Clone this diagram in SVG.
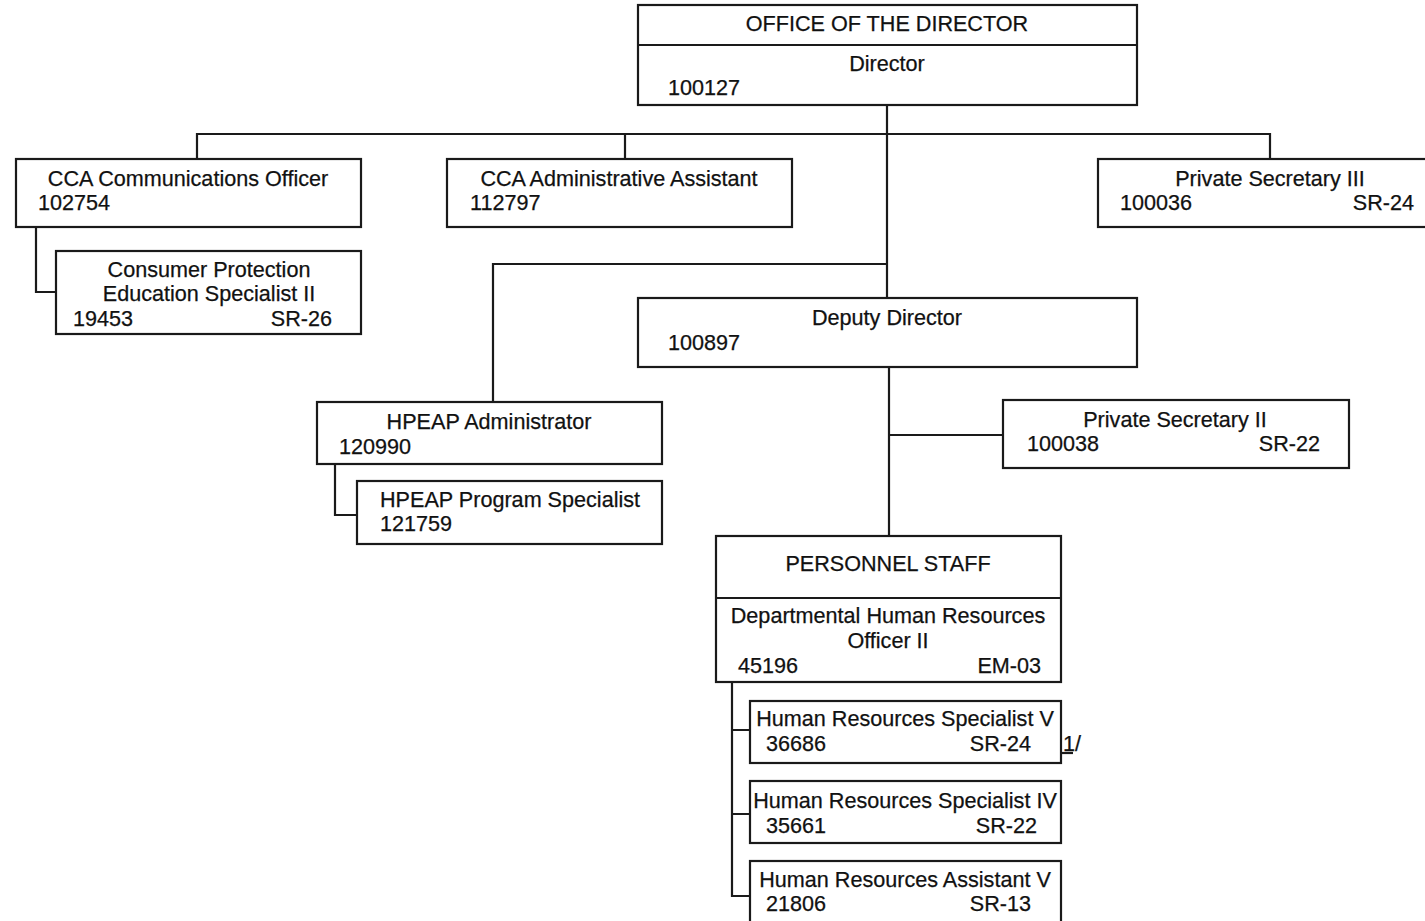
<svg xmlns="http://www.w3.org/2000/svg" width="1425" height="921" viewBox="0 0 1425 921">
<style>
.box{fill:#fff;stroke:#1a1a1a;stroke-width:2.2}
.ln{fill:none;stroke:#1a1a1a;stroke-width:2.2}
text{font-family:"Liberation Sans",Arial,sans-serif;font-size:21.6px;fill:#111;stroke:#111;stroke-width:0.25}
.c{text-anchor:middle}
.r{text-anchor:end}
</style>
<rect width="1425" height="921" fill="#fff"/>
<g id="connectors">
<path class="ln" d="M887 105 V298 M889 367 V536"/>
<path class="ln" d="M197 159 V134 H1270 V159 M625 134 V159"/>
<path class="ln" d="M887 264 H493 V402"/>
<path class="ln" d="M36 227 V292 H56"/>
<path class="ln" d="M335 464 V515 H357"/>
<path class="ln" d="M889 435 H1003"/>
<path class="ln" d="M732 682 V896 H750 M732 730 H750 M732 814 H750"/>
<path class="ln" d="M1061 753 H1073"/>
</g>
<g id="office">
<rect class="box" x="638" y="5" width="499" height="100"/>
<line class="ln" x1="638" y1="45" x2="1137" y2="45"/>
<text class="c" x="887" y="31">OFFICE OF THE DIRECTOR</text>
<text class="c" x="887" y="71">Director</text>
<text x="668" y="95">100127</text>
</g>
<g id="cca-comm">
<rect class="box" x="16" y="159" width="345" height="68"/>
<text class="c" x="188" y="186">CCA Communications Officer</text>
<text x="38" y="210">102754</text>
</g>
<g id="consumer">
<rect class="box" x="56" y="251" width="305" height="83"/>
<text class="c" x="209" y="277">Consumer Protection</text>
<text class="c" x="209" y="301">Education Specialist II</text>
<text x="73" y="326">19453</text>
<text class="r" x="332" y="326">SR-26</text>
</g>
<g id="cca-admin">
<rect class="box" x="447" y="159" width="345" height="68"/>
<text class="c" x="619" y="186">CCA Administrative Assistant</text>
<text x="470" y="210">112797</text>
</g>
<g id="private-sec-3">
<rect class="box" x="1098" y="159" width="335" height="68"/>
<text class="c" x="1270" y="186">Private Secretary III</text>
<text x="1120" y="210">100036</text>
<text class="r" x="1414" y="210">SR-24</text>
</g>
<g id="deputy">
<rect class="box" x="638" y="298" width="499" height="69"/>
<text class="c" x="887" y="325">Deputy Director</text>
<text x="668" y="350">100897</text>
</g>
<g id="hpeap-admin">
<rect class="box" x="317" y="402" width="345" height="62"/>
<text class="c" x="489" y="429">HPEAP Administrator</text>
<text x="339" y="454">120990</text>
</g>
<g id="hpeap-prog">
<rect class="box" x="357" y="481" width="305" height="63"/>
<text x="380" y="507">HPEAP Program Specialist</text>
<text x="380" y="531">121759</text>
</g>
<g id="private-sec-2">
<rect class="box" x="1003" y="400" width="346" height="68"/>
<text class="c" x="1175" y="427">Private Secretary II</text>
<text x="1027" y="451">100038</text>
<text class="r" x="1320" y="451">SR-22</text>
</g>
<g id="personnel">
<rect class="box" x="716" y="536" width="345" height="146"/>
<line class="ln" x1="716" y1="598" x2="1061" y2="598"/>
<text class="c" x="888" y="571">PERSONNEL STAFF</text>
<text class="c" x="888" y="623">Departmental Human Resources</text>
<text class="c" x="888" y="648">Officer II</text>
<text x="738" y="673">45196</text>
<text class="r" x="1041" y="673">EM-03</text>
</g>
<g id="hrs5">
<rect class="box" x="750" y="701" width="311" height="62"/>
<text class="c" x="905" y="726">Human Resources Specialist V</text>
<text x="766" y="751">36686</text>
<text class="r" x="1031" y="751">SR-24</text>
<text x="1063" y="751">1/</text>
</g>
<g id="hrs4">
<rect class="box" x="750" y="781" width="311" height="62"/>
<text class="c" x="905" y="808">Human Resources Specialist IV</text>
<text x="766" y="833">35661</text>
<text class="r" x="1037" y="833">SR-22</text>
</g>
<g id="hra5">
<rect class="box" x="750" y="861" width="311" height="70"/>
<text class="c" x="905" y="887">Human Resources Assistant V</text>
<text x="766" y="911">21806</text>
<text class="r" x="1031" y="911">SR-13</text>
</g>
</svg>
